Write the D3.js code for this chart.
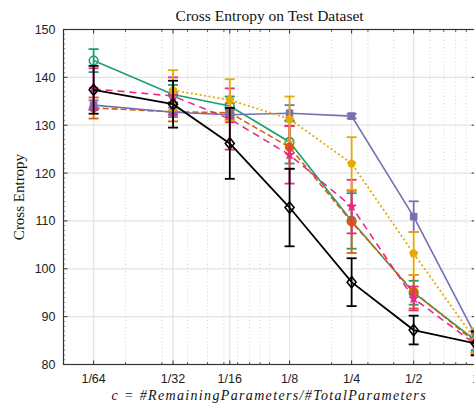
<!DOCTYPE html>
<html>
<head>
<meta charset="utf-8">
<script src="https://cdn.jsdelivr.net/npm/d3@7"></script>
<style>
html,body{margin:0;padding:0;background:#fff;overflow:hidden;}
svg{display:block;}
</style>
</head>
<body>
<svg id="chart" width="474" height="405"></svg>
<script>
// ---- data ----
const xValues = [0.0140, 0.0340, 0.0641, 0.125, 0.25, 0.5, 1];
const xTickLabels = ["1/64", "1/32", "1/16", "1/8", "1/4", "1/2", "1"];
const yTicks = [80, 90, 100, 110, 120, 130, 140, 150];

const seriesNames = ["teal", "orange", "purple", "pink", "yellow", "black"];
const tealMean   = [143.5, 136.4, 134.0, 126.5, 110.0, 95.0, 85.0];
const tealErr    = [2.4, 2.0, 2.0, 4.5, 5.8, 2.5, 2.0];
const orangeMean = [133.6, 132.8, 132.6, 125.4, 109.8, 95.2, 84.6];
const orangeErr  = [2.2, 2.0, 2.0, 4.5, 6.5, 3.5, 2.0];
const purpleMean = [134.2, 132.7, 132.2, 132.5, 131.9, 110.9, 86.0];
const purpleErr  = [1.0, 1.0, 1.0, 1.7, 0.5, 3.2, 1.5];
const pinkMean   = [137.6, 136.1, 131.3, 123.8, 113.0, 93.8, 84.2];
const pinkErr    = [4.3, 3.9, 6.4, 6.0, 5.6, 2.5, 2.0];
const yellowMean = [null, 137.3, 135.3, 131.3, 122.0, 103.2, 85.0];
const yellowErr  = [null, 4.2, 4.3, 4.7, 5.5, 4.5, 2.5];
const blackMean  = [137.4, 134.4, 126.2, 112.8, 97.2, 87.2, 84.4];
const blackErr   = [5.0, 4.9, 7.4, 8.1, 5.0, 3.0, 2.5];

const seriesColors = ["#1b9e77", "#d95f02", "#7570b3", "#e7298a", "#e6ab02", "#000000"];

// ---- layout ----
const svg = d3.select("#chart");
const L = 63.5, R = 475.7, T = 29.5, B = 364.5;

const x = d3.scaleLog().domain([0.01, 1]).range([L, R]);
const y = d3.scaleLinear().domain([80, 150]).range([B, T]);

const series = [
  {mean: tealMean,   err: tealErr,   color: seriesColors[0], dash: null,    mark: "circleOpen", w: 1.6},
  {mean: orangeMean, err: orangeErr, color: seriesColors[1], dash: "6,3",   mark: "circleFill", w: 1.6},
  {mean: purpleMean, err: purpleErr, color: seriesColors[2], dash: null,    mark: "square",     w: 1.6},
  {mean: pinkMean,   err: pinkErr,   color: seriesColors[3], dash: "7,5",   mark: "star",       w: 1.6},
  {mean: yellowMean, err: yellowErr, color: seriesColors[4], dash: "2,2.5", mark: "pentagon",   w: 1.8},
  {mean: blackMean,  err: blackErr,  color: seriesColors[5], dash: null,    mark: "diamond",    w: 1.8}
];

// ---- grid ----
const minorVals = [];
[0.01, 0.1].forEach(d => { for (let k = 2; k <= 10; k++) minorVals.push(d * k); });
const minorGrid = minorVals.filter(v => v < 1 && !xValues.some(t => Math.abs(t - v) < 1e-6));

const grid = svg.append("g");
grid.selectAll(".minor").data(minorGrid).enter().append("line")
  .attr("x1", d => x(d)).attr("x2", d => x(d))
  .attr("y1", T).attr("y2", B)
  .attr("stroke", "#c8c8c8").attr("stroke-width", 0.8).attr("stroke-dasharray", "1,2.5");
grid.selectAll(".majx").data(xValues).enter().append("line")
  .attr("x1", d => x(d)).attr("x2", d => x(d))
  .attr("y1", T).attr("y2", B)
  .attr("stroke", "#e3e3e3").attr("stroke-width", 1.2);
grid.selectAll(".majy").data(yTicks.slice(1, -1)).enter().append("line")
  .attr("x1", L).attr("x2", R)
  .attr("y1", d => y(d)).attr("y2", d => y(d))
  .attr("stroke", "#e3e3e3").attr("stroke-width", 1.2);

const plot = svg.append("g");

function pentagon(r) {
  const pts = d3.range(5).map(k => {
    const a = -Math.PI / 2 + k * 2 * Math.PI / 5;
    return [r * Math.cos(a), r * Math.sin(a)];
  });
  return "M" + pts.map(p => p.join(",")).join("L") + "Z";
}

function markerPath(type, s) {
  switch (type) {
    case "circleOpen": return d3.symbol(d3.symbolCircle, s * s * Math.PI)();
    case "circleFill": return d3.symbol(d3.symbolCircle, s * s * Math.PI)();
    case "square": return d3.symbol(d3.symbolSquare, (2 * s) * (2 * s))();
    case "star": return d3.symbol(d3.symbolStar, s * s * 1.3)();
    case "pentagon": return pentagon(s);
    case "diamond": return "M0," + (-s * 1.25) + "L" + s + ",0L0," + (s * 1.25) + "L" + (-s) + ",0Z";
  }
}

series.forEach(sr => {
  const g = plot.append("g");
  const pts = xValues.map((xv, i) => ({x: xv, m: sr.mean[i], e: sr.err[i]}))
    .filter(p => p.m !== null);
  pts.forEach(p => {
    const cx = x(p.x);
    g.append("line").attr("x1", cx).attr("x2", cx)
      .attr("y1", y(p.m - p.e)).attr("y2", y(p.m + p.e))
      .attr("stroke", sr.color).attr("stroke-width", 1.8);
    [p.m - p.e, p.m + p.e].forEach(v => {
      g.append("line").attr("x1", cx - 5).attr("x2", cx + 5)
        .attr("y1", y(v)).attr("y2", y(v))
        .attr("stroke", sr.color).attr("stroke-width", 1.8);
    });
  });
  g.append("path").datum(pts)
    .attr("d", d3.line().x(d => x(d.x)).y(d => y(d.m)))
    .attr("fill", "none").attr("stroke", sr.color).attr("stroke-width", sr.w)
    .attr("stroke-dasharray", sr.dash);
  pts.forEach(p => {
    const filled = !(sr.mark === "circleOpen" || sr.mark === "diamond");
    const size = sr.mark === "square" ? 3.3 : (sr.mark === "diamond" ? 4.5 : (sr.mark === "star" ? 4.5 : (sr.mark === "pentagon" ? 4.2 : 4.3)));
    g.append("path")
      .attr("transform", "translate(" + x(p.x) + "," + y(p.m) + ")")
      .attr("d", markerPath(sr.mark, size))
      .attr("fill", filled ? sr.color : "none")
      .attr("stroke", sr.color).attr("stroke-width", filled ? 1 : 1.6);
  });
});

// ---- axes frame ----
const axisColor = "#333";
const frame = svg.append("g");
frame.append("rect").attr("x", L).attr("y", T).attr("width", R - L).attr("height", B - T)
  .attr("fill", "none").attr("stroke", axisColor).attr("stroke-width", 1.2);

xValues.forEach(v => {
  frame.append("line").attr("x1", x(v)).attr("x2", x(v)).attr("y1", B).attr("y2", B - 4)
    .attr("stroke", axisColor).attr("stroke-width", 1);
  frame.append("line").attr("x1", x(v)).attr("x2", x(v)).attr("y1", T).attr("y2", T + 4)
    .attr("stroke", axisColor).attr("stroke-width", 1);
});
minorGrid.forEach(v => {
  frame.append("line").attr("x1", x(v)).attr("x2", x(v)).attr("y1", B).attr("y2", B - 2.5)
    .attr("stroke", axisColor).attr("stroke-width", 0.8);
  frame.append("line").attr("x1", x(v)).attr("x2", x(v)).attr("y1", T).attr("y2", T + 2.5)
    .attr("stroke", axisColor).attr("stroke-width", 0.8);
});
d3.range(80, 151, 1).forEach(v => {
  const major = v % 10 === 0;
  const len = major ? 4 : 1.8;
  frame.append("line").attr("x1", L).attr("x2", L + len).attr("y1", y(v)).attr("y2", y(v))
    .attr("stroke", axisColor).attr("stroke-width", major ? 1 : 0.5);
  frame.append("line").attr("x1", R).attr("x2", R - len).attr("y1", y(v)).attr("y2", y(v))
    .attr("stroke", axisColor).attr("stroke-width", major ? 1 : 0.5);
});

// tick labels
const tickFont = "'Liberation Sans', Arial, sans-serif";
svg.append("g").selectAll("text").data(xValues).enter().append("text")
  .attr("x", d => x(d)).attr("y", B + 18.5)
  .attr("text-anchor", "middle").attr("font-family", tickFont).attr("font-size", 12.5)
  .attr("fill", "#222")
  .text((d, i) => xTickLabels[i]);
svg.append("g").selectAll("text").data(yTicks).enter().append("text")
  .attr("x", L - 8).attr("y", d => y(d) + 4.5)
  .attr("text-anchor", "end").attr("font-family", tickFont).attr("font-size", 12.5)
  .attr("fill", "#222")
  .text(d => d);

// titles
svg.append("text").attr("x", (L + R) / 2).attr("y", 20.5)
  .attr("text-anchor", "middle").attr("font-family", "'Liberation Serif', serif").attr("font-size", 15.5)
  .attr("fill", "#111").text("Cross Entropy on Test Dataset");
svg.append("text").attr("transform", "translate(24," + ((T + B) / 2) + ") rotate(-90)")
  .attr("text-anchor", "middle").attr("font-family", "'Liberation Serif', serif").attr("font-size", 15)
  .attr("fill", "#111").text("Cross Entropy");
svg.append("text").attr("x", (L + R) / 2 - 1).attr("y", 399.5)
  .attr("text-anchor", "middle").attr("font-family", "'Liberation Serif', serif").attr("font-size", 14)
  .attr("textLength", 314).attr("lengthAdjust", "spacing")
  .attr("font-style", "italic").attr("fill", "#111")
  .text("c = #RemainingParameters/#TotalParameters");
</script>
</body>
</html>
